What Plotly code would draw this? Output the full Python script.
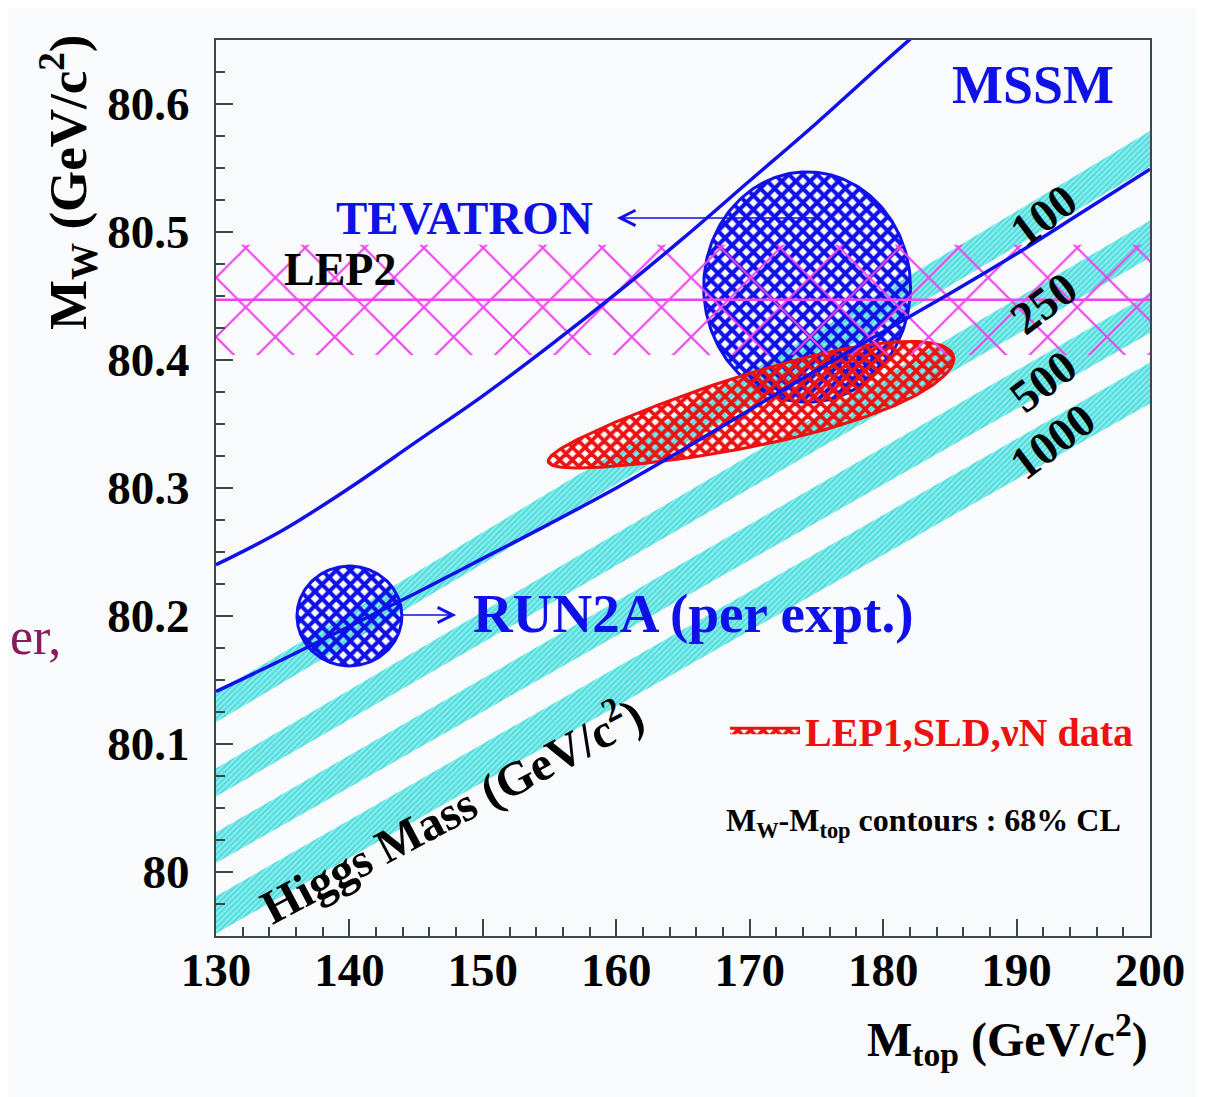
import plotly.graph_objects as go
import numpy as np

SERIF = "Liberation Serif"
BLUE = "#1010e8"
RED = "#ee1111"
MAGENTA = "#ee44ee"
CYAN = "#1fcfcf"
CLEAR = "rgba(0,0,0,0)"

# ---- axes ----
x_range = [130, 200]
y_range = [79.95, 80.65]
x_ticks = [130, 140, 150, 160, 170, 180, 190, 200]
x_ticklabels = ["130", "140", "150", "160", "170", "180", "190", "200"]
y_ticks = [80.0, 80.1, 80.2, 80.3, 80.4, 80.5, 80.6]
y_ticklabels = ["80", "80.1", "80.2", "80.3", "80.4", "80.5", "80.6"]

# ---- MSSM boundaries ----
mssm_upper_mtop = [130, 135, 140, 145, 150, 155, 160, 165, 170, 175, 180, 185]
mssm_upper_mw = [80.240, 80.267, 80.300, 80.336, 80.372, 80.411, 80.452, 80.495, 80.540, 80.585, 80.632, 80.678]
mssm_lower_mtop = [130, 135, 140, 145, 150, 155, 160, 165, 170, 175, 180, 185, 190, 195, 200]
mssm_lower_mw = [80.141, 80.166, 80.192, 80.218, 80.245, 80.272, 80.300, 80.330, 80.361, 80.392, 80.422, 80.452, 80.483, 80.516, 80.549]

# ---- SM Higgs-mass bands (edges at mtop = 130 and 200) ----
higgs_labels = ["100", "250", "500", "1000"]
band_mtop = [130, 200]
band_top_130 = [80.140, 80.081, 80.031, 79.981]
band_bot_130 = [80.117, 80.059, 80.007, 79.952]
band_top_200 = [80.579, 80.509, 80.452, 80.398]
band_bot_200 = [80.551, 80.480, 80.421, 80.366]
label_mtop = [192.0, 192.0, 192.0, 192.7]
label_mw = [80.513, 80.4445, 80.383, 80.336]

# ---- LEP2 direct MW ----
lep2_mw = 80.447
lep2_err = 0.043

# ---- 68% CL contours ----
tev_center = (174.3, 80.457)
tev_semi = (7.75, 0.090)
run2a_center = (140.0, 80.200)
run2a_semi = (3.93, 0.039)
lep1_center = (170.1, 80.361)
lep1_half_major = (15.2, 0.040)
lep1_half_thick = 0.029
lep1_skew = 0.3

t = np.linspace(0, 2 * np.pi, 241)

fig = go.Figure()

# cyan bands
for i, lab in enumerate(higgs_labels):
    fig.add_trace(go.Scatter(
        x=[band_mtop[0], band_mtop[1], band_mtop[1], band_mtop[0]],
        y=[band_top_130[i], band_top_200[i], band_bot_200[i], band_bot_130[i]],
        fill="toself", mode="none", fillcolor=CYAN,
        fillpattern=dict(shape="/", fgcolor="#12c6c6", bgcolor="#8deeee", size=4, solidity=0.5),
        showlegend=False, hoverinfo="skip"))

# Tevatron ellipse
fig.add_trace(go.Scatter(
    x=tev_center[0] + tev_semi[0] * np.cos(t), y=tev_center[1] + tev_semi[1] * np.sin(t),
    fill="toself", mode="lines", line=dict(color=BLUE, width=3), fillcolor=CLEAR,
    fillpattern=dict(shape="x", fgcolor=BLUE, bgcolor=CLEAR, fgopacity=1, size=10, solidity=0.65),
    showlegend=False, hoverinfo="skip"))

# LEP1/SLD/nuN contour
c, s = np.cos(t), np.sin(t)
lx = lep1_center[0] + c * lep1_half_major[0]
ly = lep1_center[1] + c * lep1_half_major[1] + s * lep1_half_thick * (1 + lep1_skew * c)
fig.add_trace(go.Scatter(
    x=lx, y=ly, fill="toself", mode="lines", line=dict(color=RED, width=3), fillcolor=CLEAR,
    fillpattern=dict(shape="x", fgcolor=RED, bgcolor=CLEAR, fgopacity=1, size=9, solidity=0.65),
    name="<b>LEP1,SLD,νN data</b>", showlegend=True, hoverinfo="skip"))

# LEP2 band
fig.add_trace(go.Scatter(
    x=[x_range[0], x_range[1], x_range[1], x_range[0]],
    y=[lep2_mw - lep2_err, lep2_mw - lep2_err, lep2_mw + lep2_err, lep2_mw + lep2_err],
    fill="toself", mode="none", fillcolor=CLEAR,
    fillpattern=dict(shape="x", fgcolor=MAGENTA, bgcolor=CLEAR, fgopacity=1, size=42, solidity=0.1),
    showlegend=False, hoverinfo="skip"))
fig.add_trace(go.Scatter(x=x_range, y=[lep2_mw, lep2_mw], mode="lines",
                         line=dict(color=MAGENTA, width=2.5), showlegend=False, hoverinfo="skip"))

# MSSM lines
fig.add_trace(go.Scatter(x=mssm_upper_mtop, y=mssm_upper_mw, mode="lines",
                         line=dict(color=BLUE, width=3.5, shape="spline"), showlegend=False, hoverinfo="skip"))
fig.add_trace(go.Scatter(x=mssm_lower_mtop, y=mssm_lower_mw, mode="lines",
                         line=dict(color=BLUE, width=3.5, shape="spline"), showlegend=False, hoverinfo="skip"))

# RUN2A ellipse
fig.add_trace(go.Scatter(
    x=run2a_center[0] + run2a_semi[0] * np.cos(t), y=run2a_center[1] + run2a_semi[1] * np.sin(t),
    fill="toself", mode="lines", line=dict(color=BLUE, width=3), fillcolor=CLEAR,
    fillpattern=dict(shape="x", fgcolor=BLUE, bgcolor=CLEAR, fgopacity=1, size=10, solidity=0.65),
    showlegend=False, hoverinfo="skip"))

annotations = []

def txt(x, y, text, size, color="black", angle=0, xref="x", yref="y", xanchor="center",
        yanchor="middle", bold=True):
    annotations.append(dict(x=x, y=y, xref=xref, yref=yref, text=text, showarrow=False,
                            textangle=angle, xanchor=xanchor, yanchor=yanchor,
                            font=dict(family=SERIF, size=size, color=color,
                                      weight="bold" if bold else "normal")))

txt(191.2, 80.615, "MSSM", 54, BLUE)
txt(148.66, 80.511, "TEVATRON", 47, BLUE)
txt(139.3, 80.471, "LEP2", 46)
txt(165.75, 80.2023, "RUN2A (per expt.)", 55, BLUE)
txt(147.54, 80.05, "Higgs Mass (GeV/c<sup>2</sup>)", 48, angle=-28)
for lab, xm, ym in zip(higgs_labels, label_mtop, label_mw):
    txt(xm, ym, lab, 46, angle=-37)
txt(183.0, 80.039, "M<sub>W</sub>-M<sub>top</sub> contours : 68% CL", 32)
txt(-0.1585, 0.8415, "M<sub>W</sub> (GeV/c<sup>2</sup>)", 53, angle=-90, xref="paper", yref="paper")
txt(1.0, -0.116, "M<sub>top</sub> (GeV/c<sup>2</sup>)", 48, xref="paper", yref="paper", xanchor="right")
txt(-0.2227, 0.334, "er,", 52, color="#8a1a5c", xref="paper", yref="paper", xanchor="left", bold=False)

# arrows
annotations.append(dict(x=160.05, y=80.511, ax=175.0, ay=80.511, xref="x", yref="y", axref="x", ayref="y",
                        text="", showarrow=True, arrowhead=5, arrowsize=2, arrowwidth=1.5, arrowcolor=BLUE))
annotations.append(dict(x=148.0, y=80.2008, ax=143.9, ay=80.2008, xref="x", yref="y", axref="x", ayref="y",
                        text="", showarrow=True, arrowhead=5, arrowsize=2, arrowwidth=1.5, arrowcolor=BLUE))

AXCOL = "#3a4848"
fig.update_layout(
    width=1197, height=1089,
    margin=dict(l=208, r=55, t=32, b=161),
    paper_bgcolor="#f9fafb", plot_bgcolor="#f9fafb",
    annotations=annotations,
    legend=dict(x=0.545, y=0.266, xanchor="left", yanchor="top", bgcolor=CLEAR,
                font=dict(family=SERIF, size=40, color=RED), itemwidth=70),
    xaxis=dict(range=x_range, tickvals=x_ticks, ticktext=x_ticklabels, ticks="inside", ticklen=17,
               tickwidth=2, tickcolor=AXCOL, showline=True, linecolor=AXCOL, linewidth=2, mirror=True,
               showgrid=False, zeroline=False, ticklabelstandoff=-8,
               tickfont=dict(family=SERIF, size=47, color="black", weight="bold"),
               minor=dict(dtick=2, tick0=130, ticks="inside", ticklen=9, tickwidth=1.5, tickcolor=AXCOL, showgrid=False)),
    yaxis=dict(range=y_range, tickvals=y_ticks, ticktext=y_ticklabels, ticks="inside", ticklen=17,
               tickwidth=2, tickcolor=AXCOL, showline=True, linecolor=AXCOL, linewidth=2, mirror=True,
               showgrid=False, zeroline=False, ticklabelstandoff=15,
               tickfont=dict(family=SERIF, size=47, color="black", weight="bold"),
               minor=dict(dtick=0.025, tick0=80, ticks="inside", ticklen=9, tickwidth=1.5, tickcolor=AXCOL, showgrid=False)),
)

fig.write_html("out.html")
